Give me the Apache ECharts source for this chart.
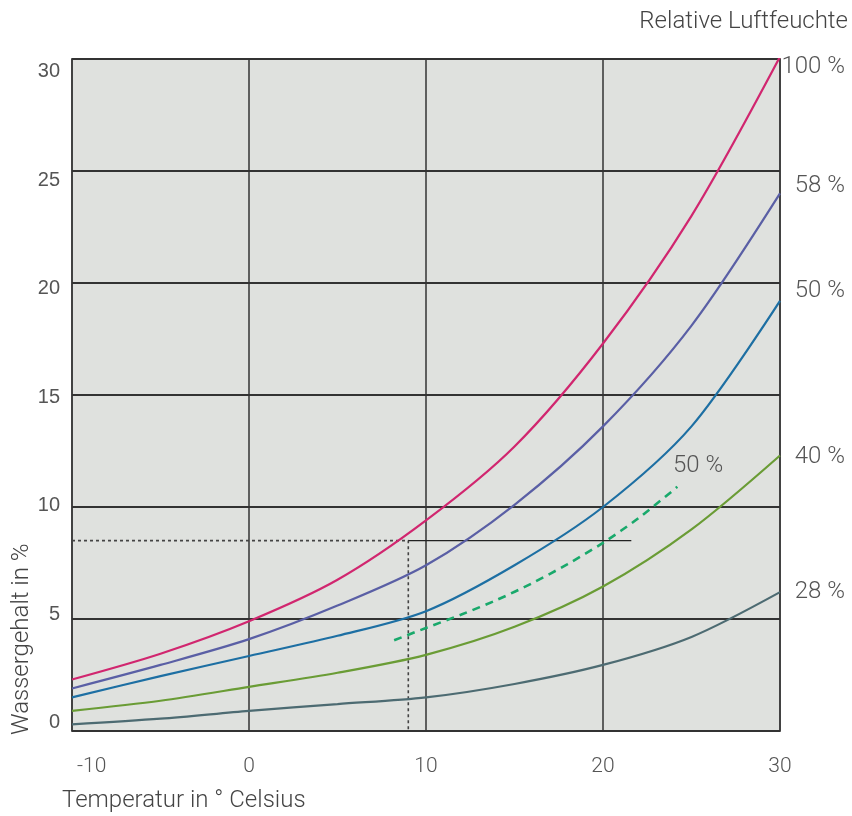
<!DOCTYPE html>
<html>
<head>
<meta charset="utf-8">
<script src="https://cdn.jsdelivr.net/npm/echarts@6/dist/echarts.min.js"></script>
<style>
html,body{margin:0;padding:0;background:#fff;}
#chart{width:852px;height:816px;}
</style>
</head>
<body>
<div id="chart"></div>
<script>
// ---- Data ----
const temps = [-10, -5, 0, 5, 10, 15, 20, 25, 30];
const rh100 = [2.3, 3.45, 4.9, 6.75, 9.4, 12.7, 17.3, 23.0, 30.1];
const rh58  = [1.9, 2.95, 4.1, 5.6, 7.4, 10.1, 13.6, 18.1, 24.0];
const rh50  = [1.5, 2.45, 3.35, 4.25, 5.35, 7.4, 10.0, 13.6, 19.2];
const rh40  = [0.9, 1.35, 1.97, 2.6, 3.4, 4.65, 6.45, 9.0, 12.3];
const rh28  = [0.3, 0.55, 0.9, 1.2, 1.5, 2.1, 2.95, 4.2, 6.2];
const dashTemps  = [8.2, 10, 12, 14, 16, 18, 20, 22, 24.2];
const dashValues = [4.05, 4.6, 5.2, 5.85, 6.6, 7.45, 8.4, 9.5, 10.9];
const refTemp = 9, refValue = 8.5, refLineEnd = 21.6;
const yTicks = [0, 5, 10, 15, 20, 25, 30];
const curveLabels = ['100 %', '58 %', '50 %', '40 %', '28 %'];
const innerLabel = '50 %';

const zip = (xs, ys) => xs.map((x, i) => [x, ys[i]]);
const DIN = 'Roboto, "DejaVu Sans", sans-serif';

const chart = echarts.init(document.getElementById('chart'));
const curveColors = ['#d1266f', '#5a5fa5', '#1d6fa3', '#6a9c35', '#4d6b72'];
const curveData = [rh100, rh58, rh50, rh40, rh28];

const series = curveData.map((d, i) => ({
  type: 'line', data: zip(temps, d), smooth: 0.3, showSymbol: false,
  lineStyle: { color: curveColors[i], width: 2.2 }, z: 5, silent: true
}));
series.push({
  type: 'line', data: zip(dashTemps, dashValues), smooth: 0.3, showSymbol: false,
  lineStyle: { color: '#19a96b', width: 2.6, type: [8, 6] }, z: 5, silent: true
});
// dotted reference lines
series.push({
  type: 'line', data: [[-10, refValue], [refTemp, refValue], [refTemp, 0]], showSymbol: false,
  lineStyle: { color: '#444', width: 1.6, type: [3, 3] }, z: 4, silent: true
});
series.push({
  type: 'line', data: [[refTemp, refValue], [refLineEnd, refValue]], showSymbol: false,
  lineStyle: { color: '#222', width: 1.2 }, z: 4, silent: true
});

const FONT = '300 24px ' + DIN;
const rightLabelYs = [66, 185, 290, 456, 591];
const rightEdge = [7, 7, 7, 7, 7];
const graphics = curveLabels.map((t, i) => ({
  type: 'text', right: rightEdge[i], top: rightLabelYs[i] - 11,
  style: { text: t, font: FONT, fill: '#555' }
}));
graphics.push({ type: 'text', right: 4, top: 10, style: { text: 'Relative Luftfeuchte', font: FONT, fill: '#444' } });
graphics.push({ type: 'text', left: 673, top: 454, style: { text: innerLabel, font: FONT, fill: '#555' } });
graphics.push({ type: 'text', left: 62, top: 789, style: { text: 'Temperatur in ° Celsius', font: FONT, fill: '#444' } });
graphics.push({ type: 'text', x: 22, y: 735, rotation: Math.PI / 2, style: { text: 'Wassergehalt in %', font: FONT, fill: '#444', verticalAlign: 'middle' } });

chart.setOption({
  animation: false,
  backgroundColor: '#fff',
  grid: { left: 72, right: 72, top: 59, bottom: 85, show: true, backgroundColor: '#dfe1de', borderColor: '#6f6f6f', borderWidth: 2 },
  xAxis: {
    type: 'value', min: -10, max: 30, interval: 10,
    axisLine: { show: false }, axisTick: { show: false },
    splitLine: { show: true, lineStyle: { color: '#333', width: 1.5 } },
    axisLabel: {
      margin: 25, color: '#555', fontFamily: DIN, fontWeight: 300, fontSize: 21,
      alignMinLabel: 'left',
      formatter: v => v === -10 ? '{m|-10}' : String(v),
      rich: { m: { padding: [0, 0, 0, 5], color: '#555', fontFamily: DIN, fontWeight: 300, fontSize: 21 } }
    }
  },
  yAxis: [{
    type: 'value', min: 0, max: 30, interval: 5,
    axisLine: { show: false }, axisTick: { show: false }, axisLabel: { show: false },
    splitLine: { show: true, lineStyle: { color: '#333', width: 1.8 } }
  }, {
    type: 'value', min: -0.378, max: 30.58, position: 'left',
    axisLine: { show: false }, axisTick: { show: false }, splitLine: { show: false },
    axisLabel: { customValues: yTicks, margin: 12, color: '#555', fontFamily: '"Liberation Sans", Arial, sans-serif', fontSize: 20 }
  }],
  graphic: graphics,
  series: series
});
</script>
</body>
</html>
